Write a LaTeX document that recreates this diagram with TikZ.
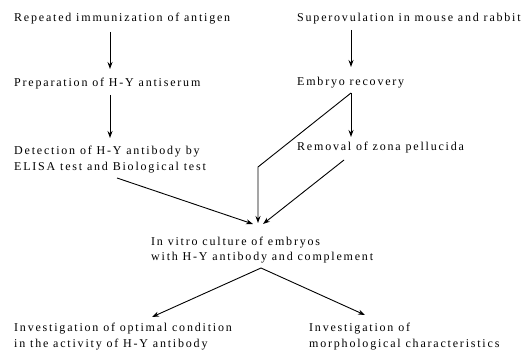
\documentclass[tikz,border=0pt]{standalone}
\usepackage{fontspec}
\setmainfont{Liberation Serif}[LetterSpace=15]
\usetikzlibrary{arrows.meta}
\tikzset{
  lbl/.style={anchor=base west,inner sep=0pt,font=\fontsize{12}{16}\selectfont,align=left},
  arr/.style={line width=0.9pt,-{Stealth[length=7pt,width=5pt]}}
}
\begin{document}
\begin{tikzpicture}[x=1pt,y=1pt]
\useasboundingbox (0,-352) rectangle (529,0);
% left column
\node[lbl] (rep) at (14,-22) {Repeated immunization of antigen};
\node[lbl] (prep) at (14,-87) {Preparation of H-Y antiserum};
\node[lbl] (det) at (14,-171) {Detection of H-Y antibody by\\ELISA test and Biological test};
% right column
\node[lbl] (sup) at (297,-22) {Superovulation in mouse and rabbit};
\node[lbl] (emb) at (297,-86) {Embryo recovery};
\node[lbl] (rem) at (297,-151) {Removal of zona pellucida};
% center
\node[lbl] (cul) at (151,-261) {In vitro culture of embryos\\with H-Y antibody and complement};
% bottom
\node[lbl] (opt) at (14,-347) {Investigation of optimal condition\\in the activity of H-Y antibody};
\node[lbl] (mor) at (309,-347) {Investigation of\\morphological characteristics};
% connector points
\coordinate (a1s) at (110,-32); \coordinate (a1e) at (110,-69);
\coordinate (a2s) at (110,-95); \coordinate (a2e) at (110,-138);
\coordinate (b1s) at (351,-30); \coordinate (b1e) at (351,-67);
\coordinate (apex) at (351,-93);
\coordinate (b2e) at (351,-137);
\coordinate (corner) at (258,-167);
\coordinate (ve) at (258,-223);
\coordinate (rs) at (344,-160); \coordinate (re) at (263,-224);
\coordinate (ds) at (117,-178); \coordinate (de) at (253,-224);
\coordinate (bot) at (261,-268);
\coordinate (bl) at (152,-317); \coordinate (br) at (365,-315);
\draw[arr] (a1s) -- (a1e);
\draw[arr] (a2s) -- (a2e);
\draw[arr] (b1s) -- (b1e);
\draw[arr] (apex) -- (b2e);
\draw[arr] (apex) -- (corner) -- (ve);
\draw[arr] (rs) -- (re);
\draw[arr] (ds) -- (de);
\draw[arr] (bot) -- (bl);
\draw[arr] (bot) -- (br);
\end{tikzpicture}
\end{document}
